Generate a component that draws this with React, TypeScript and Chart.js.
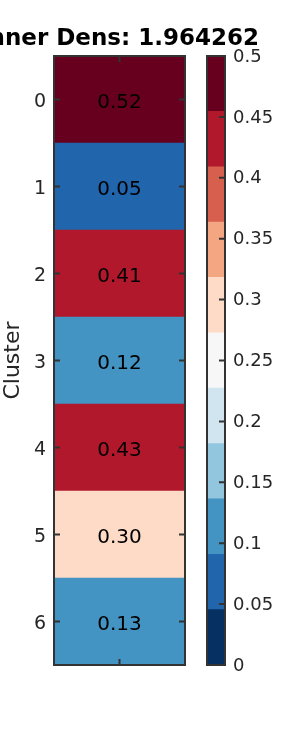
import React, { useEffect, useRef } from 'react';
import { Chart, registerables } from 'chart.js';

Chart.register(...registerables);

const titleText = 'Inner Dens: 1.964262';
const clusterLabels = ['0', '1', '2', '3', '4', '5', '6'];
const cellValues = [0.52, 0.05, 0.41, 0.12, 0.43, 0.30, 0.13];
const yAxisTitle = 'Cluster';
const bandEdges = [0, 0.0455, 0.0909, 0.1364, 0.1818, 0.2273, 0.2727, 0.3182, 0.3636, 0.4091, 0.4545, 0.5];
const bandColors = ['#053061', '#2166ac', '#4393c3', '#92c5de', '#d1e5f0', '#f7f7f7', '#fddbc7', '#f4a582', '#d6604d', '#b2182b', '#67001f'];
const cbarTickValues = [0, 0.05, 0.1, 0.15, 0.2, 0.25, 0.3, 0.35, 0.4, 0.45, 0.5];
const cbarTickLabels = ['0', '0.05', '0.1', '0.15', '0.2', '0.25', '0.3', '0.35', '0.4', '0.45', '0.5'];

const FONT = "'DejaVu Sans', sans-serif";
const TEXT = '#262626';
const FRAME = '#333333';

function colorFor(v: number): string {
  for (let i = 0; i < bandColors.length; i++) {
    if (v >= bandEdges[i] && v < bandEdges[i + 1]) return bandColors[i];
  }
  return v < bandEdges[0] ? bandColors[0] : bandColors[bandColors.length - 1];
}

const heatPlugin = {
  id: 'heatDecor',
  afterDatasetsDraw(chart: any) {
    const ctx = chart.ctx;
    const meta = chart.getDatasetMeta(0);
    ctx.save();
    ctx.fillStyle = '#000';
    ctx.font = `20px ${FONT}`;
    ctx.textAlign = 'center';
    ctx.textBaseline = 'alphabetic';
    meta.data.forEach((el: any, i: number) => {
      const p = el.getCenterPoint();
      ctx.fillText(cellValues[i].toFixed(2), p.x, p.y + 8.5);
    });
    ctx.restore();
  },
  afterDraw(chart: any) {
    const ctx = chart.ctx;
    const { left, right, top, bottom } = chart.chartArea;
    const yScale = chart.scales.y;
    const xScale = chart.scales.x;
    ctx.save();
    ctx.strokeStyle = FRAME;
    ctx.lineWidth = 2;
    ctx.beginPath();
    yScale.ticks.forEach((_t: any, i: number) => {
      const y = yScale.getPixelForTick(i);
      ctx.moveTo(left, y);
      ctx.lineTo(left + 6, y);
      ctx.moveTo(right, y);
      ctx.lineTo(right - 6, y);
    });
    const cx = xScale.getPixelForValue(0.5);
    ctx.moveTo(cx, top);
    ctx.lineTo(cx, top + 6);
    ctx.moveTo(cx, bottom);
    ctx.lineTo(cx, bottom - 6);
    ctx.stroke();
    ctx.strokeRect(left, top, right - left, bottom - top);
    ctx.fillStyle = '#000';
    ctx.font = `bold 23px ${FONT}`;
    ctx.textAlign = 'center';
    ctx.textBaseline = 'alphabetic';
    ctx.fillText(titleText, (left + right) / 2, 45);
    ctx.restore();
  },
};

const cbarPlugin = {
  id: 'cbarDecor',
  afterDraw(chart: any) {
    const ctx = chart.ctx;
    const { left, right, top, bottom } = chart.chartArea;
    const yScale = chart.scales.y;
    ctx.save();
    ctx.strokeStyle = FRAME;
    ctx.lineWidth = 2;
    ctx.beginPath();
    cbarTickValues.forEach((v) => {
      const y = yScale.getPixelForValue(v);
      ctx.moveTo(right, y);
      ctx.lineTo(right - 6, y);
    });
    ctx.stroke();
    ctx.strokeRect(left, top, right - left, bottom - top);
    ctx.restore();
  },
};

export default function App() {
  const heatRef = useRef<HTMLCanvasElement>(null);
  const cbarRef = useRef<HTMLCanvasElement>(null);

  useEffect(() => {
    const heat = new Chart(heatRef.current as HTMLCanvasElement, {
      type: 'bar',
      data: {
        labels: clusterLabels,
        datasets: [
          {
            data: cellValues.map(() => 1),
            backgroundColor: cellValues.map(colorFor),
            borderWidth: 0,
            barPercentage: 1,
            categoryPercentage: 1,
          },
        ],
      },
      options: {
        indexAxis: 'y',
        responsive: false,
        animation: false,
        devicePixelRatio: 1,
        layout: { padding: { top: 56, bottom: 85, right: 115, left: 0 } },
        plugins: {
          legend: { display: false },
          tooltip: { enabled: false },
          title: { display: false },
        },
        scales: {
          x: { display: false, min: 0, max: 1 },
          y: {
            type: 'category',
            grid: { display: false, drawTicks: false },
            border: { display: false },
            ticks: { color: TEXT, font: { family: FONT, size: 19 }, padding: 8, labelOffset: 2.5 },
            title: {
              display: true,
              text: yAxisTitle,
              color: TEXT,
              font: { family: FONT, size: 22 },
              padding: 0,
            },
            afterFit: (s: any) => {
              s.width = 54;
            },
          },
        },
      },
      plugins: [heatPlugin],
    } as any);

    const cbar = new Chart(cbarRef.current as HTMLCanvasElement, {
      type: 'bar',
      data: {
        labels: [''],
        datasets: bandColors.map((c, i) => ({
          data: [[bandEdges[i], bandEdges[i + 1]]],
          backgroundColor: c,
          borderWidth: 0,
          barPercentage: 1,
          categoryPercentage: 1,
          grouped: false,
        })),
      },
      options: {
        responsive: false,
        animation: false,
        devicePixelRatio: 1,
        layout: { padding: { top: 56, bottom: 85, left: 7, right: 0 } },
        plugins: {
          legend: { display: false },
          tooltip: { enabled: false },
          title: { display: false },
        },
        scales: {
          x: { display: false },
          y: {
            position: 'right',
            min: 0,
            max: 0.5,
            grid: { display: false, drawTicks: false },
            border: { display: false },
            afterBuildTicks: (s: any) => {
              s.ticks = cbarTickValues.map((v) => ({ value: v }));
            },
            ticks: {
              color: TEXT,
              font: { family: FONT, size: 18 },
              padding: 8,
              labelOffset: 1,
              callback: (v: any) => {
                const idx = cbarTickValues.findIndex((t) => Math.abs(t - Number(v)) < 1e-9);
                return idx >= 0 ? cbarTickLabels[idx] : '';
              },
            },
            afterFit: (s: any) => {
              s.width = 75;
            },
          },
        },
      },
      plugins: [cbarPlugin],
    } as any);

    return () => {
      heat.destroy();
      cbar.destroy();
    };
  }, []);

  return (
    <div style={{ position: 'absolute', left: 0, top: 0, width: 300, height: 750, background: '#fff' }}>
      <canvas
        ref={heatRef}
        width={300}
        height={750}
        style={{ position: 'absolute', left: 0, top: 0, width: 300, height: 750 }}
      />
      <canvas
        ref={cbarRef}
        width={100}
        height={750}
        style={{ position: 'absolute', left: 200, top: 0, width: 100, height: 750 }}
      />
    </div>
  );
}
